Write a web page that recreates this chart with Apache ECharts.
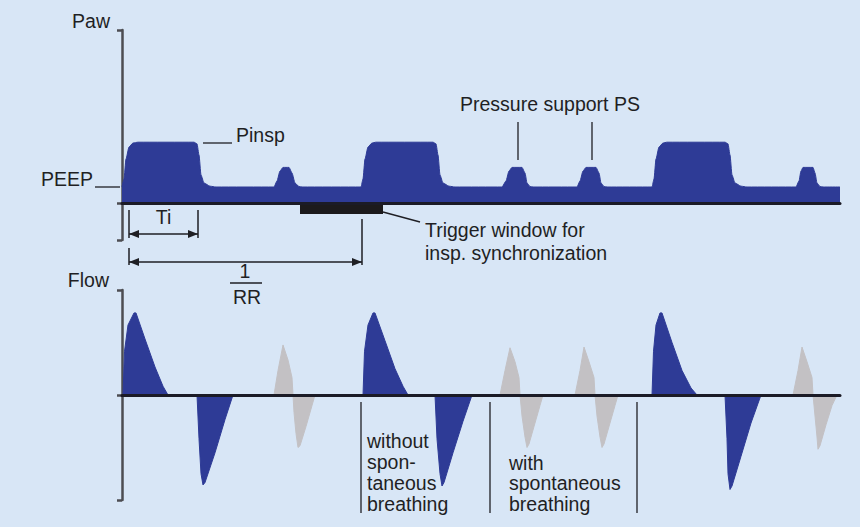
<!DOCTYPE html>
<html>
<head>
<meta charset="utf-8">
<script src="https://cdn.jsdelivr.net/npm/echarts@6/dist/echarts.min.js"></script>
<style>
html,body{margin:0;padding:0;background:#d8e6f6;}
#chart{width:860px;height:527px;}
</style>
</head>
<body>
<div id="chart"></div>
<script>
// ---- Data (time in s, Paw in mbar, Flow in L/min) ----
const pawTime = [0,0.04,0.08,0.14,0.22,0.32,1.44,1.50,1.54,1.58,1.64,1.76,1.88,
  3.04,3.10,3.16,3.22,3.34,3.40,3.46,3.54,3.60,
  4.78,4.82,4.86,4.92,5.00,5.08,6.22,6.28,6.32,6.36,6.42,6.54,6.66,
  7.60,7.68,7.74,7.80,8.00,8.06,8.10,8.16,8.22,
  9.10,9.16,9.22,9.28,9.48,9.54,9.58,9.64,9.70,
  10.60,10.64,10.68,10.74,10.82,10.90,12.06,12.12,12.16,12.20,12.26,12.38,12.50,
  13.48,13.54,13.58,13.62,13.82,13.86,13.90,13.96,14.02,14.36];
const pawValue = [4,6,11,14,15,15.2,15.2,14.8,12,7,5,4.2,4,
  4,5.5,8,8.9,8.9,7.5,5,4.1,4,
  4,6,11,14,15,15.2,15.2,14.8,12,7,5,4.2,4,
  4,5.5,8,8.9,8.9,7.5,5,4.1,4,
  4,5.5,8,8.9,8.9,7.5,5,4.1,4,
  4,6,11,14,15,15.2,15.2,14.8,12,7,5,4.2,4,
  4,5.5,8,8.9,8.9,7.5,5,4.1,4,4];

const flowMandTime = [0,0.02,0.05,0.12,0.24,0.28,0.46,0.66,0.82,0.92,
  1.50,1.54,1.58,1.62,1.66,1.86,2.06,2.22,
  4.82,4.85,4.92,5.02,5.06,5.26,5.46,5.62,5.72,
  6.26,6.30,6.36,6.40,6.44,6.62,6.82,7.00,
  10.60,10.63,10.68,10.76,10.80,11.00,11.20,11.38,11.50,
  12.06,12.10,12.12,12.16,12.20,12.38,12.58,12.78,14.36];
const flowMandValue = [0,0,25,40,46.9,46.9,32,16,5,0,
  0,-25,-45,-51.4,-50,-33,-14,0,
  0,25,40,46.9,46.9,31,15,5,0,
  0,-25,-45,-52,-50,-33,-15,0,
  0,25,40,46.9,46.9,30,14,4,0,
  0,-25,-45,-54,-52,-35,-16,0,0];

const flowSpontTime = [0,
  3.04,3.12,3.22,3.32,3.40,3.42,3.44,3.48,3.52,3.56,3.68,3.78,3.86,
  7.56,7.66,7.76,7.86,7.94,7.96,8.00,8.06,8.10,8.14,8.26,8.36,8.42,
  9.06,9.16,9.24,9.34,9.44,9.46,9.50,9.56,9.60,9.64,9.76,9.86,9.92,
  13.42,13.52,13.60,13.70,13.80,13.82,13.86,13.90,13.92,13.96,14.08,14.20,14.30,14.36];
const flowSpontValue = [0,
  0,14,28.6,20,10,0,-10,-22,-30,-29,-18,-8,0,
  0,14,27,19,10,0,-12,-24,-30,-28,-16,-6,0,
  0,14,27.4,19,10,0,-12,-24,-30,-28,-16,-6,0,
  0,14,27.4,19,10,0,-12,-24,-31,-29,-17,-6,0,0];

const triggerWindow = [3.56, 5.22];     // s
const triggerDepth = -2.75;              // bar depth below baseline
const tiSpan = [0.14, 1.52];             // inspiration time
const rrSpan = [0.14, 4.80];             // 1/RR
const dividerTimes = [4.78, 7.36, 10.30];
const timeRange = [0, 14.36];
const pawRange = [-9.25, 43.25];
const flowRange = [-60, 60];

const BLUE = '#2e3b96', GRAY = '#c3c1c4', INK = '#1f1f24', AXIS = '#4d4d52';
const FONT = '"Liberation Sans", Arial, sans-serif';
const zip = (a, b) => a.map((v, i) => [v, b[i]]);

const chart = echarts.init(document.getElementById('chart'), null, {renderer: 'svg'});

function yAx(gi, range) {
  return {
    type: 'value', gridIndex: gi, min: range[0], max: range[1],
    axisLine: {show: true, onZero: false, lineStyle: {color: AXIS, width: 2.5}},
    axisTick: {show: true, customValues: [range[0], 0, range[1]], length: 5, lineStyle: {color: AXIS, width: 2.5}},
    axisLabel: {show: false}, splitLine: {show: false}
  };
}
function xAx(gi) {
  return {
    type: 'value', gridIndex: gi, min: timeRange[0], max: timeRange[1], z: 5,
    axisLine: {show: true, onZero: true, lineStyle: {color: '#1b1b26', width: 3}},
    axisTick: {show: false}, axisLabel: {show: false}, splitLine: {show: false}
  };
}

chart.setOption({
  backgroundColor: '#d8e6f6',
  animation: false,
  grid: [
    {left: 122, right: 20, top: 30, height: 210},
    {left: 122, right: 20, top: 290, height: 210}
  ],
  xAxis: [xAx(0), xAx(1)],
  yAxis: [yAx(0, pawRange), yAx(1, flowRange)],
  series: [
    {
      name: 'Paw', type: 'line', xAxisIndex: 0, yAxisIndex: 0,
      data: zip(pawTime, pawValue), showSymbol: false, smooth: 0.2, smoothMonotone: 'x',
      lineStyle: {color: BLUE, width: 1}, areaStyle: {color: BLUE, opacity: 1},
      markArea: {
        silent: true, itemStyle: {color: '#1c1a1c'},
        data: [[{coord: [triggerWindow[0], 0]}, {coord: [triggerWindow[1], triggerDepth]}]]
      }
    },
    {
      name: 'Flow spontaneous', type: 'line', xAxisIndex: 1, yAxisIndex: 1,
      data: zip(flowSpontTime, flowSpontValue), showSymbol: false,
      lineStyle: {color: GRAY, width: 1}, areaStyle: {color: GRAY, opacity: 1}
    },
    {
      name: 'Flow mandatory', type: 'line', xAxisIndex: 1, yAxisIndex: 1,
      data: zip(flowMandTime, flowMandValue), showSymbol: false,
      lineStyle: {color: BLUE, width: 1}, areaStyle: {color: BLUE, opacity: 1}
    }
  ]
});

// ---- annotations, positioned through the axes ----
const P = (g, t, v) => chart.convertToPixel({gridIndex: g}, [t, v]);
const G = [];
function line(g, a, b, w) {
  const p1 = P(g, a[0], a[1]), p2 = P(g, b[0], b[1]);
  G.push({type: 'line', silent: true, z: 10, shape: {x1: p1[0], y1: p1[1], x2: p2[0], y2: p2[1]},
    style: {stroke: INK, lineWidth: w || 1.3}});
}
function text(g, t, v, str, align) {
  const p = P(g, t, v);
  G.push({type: 'text', silent: true, z: 10, x: p[0], y: p[1],
    style: {text: str, fill: INK, font: '19.5px ' + FONT, align: align || 'left', verticalAlign: 'middle'}});
}
function dim(g, t1, t2, v) {
  const a = P(g, t1, v), b = P(g, t2, v);
  G.push({type: 'line', silent: true, z: 10, shape: {x1: a[0], y1: a[1], x2: b[0], y2: b[1]}, style: {stroke: INK, lineWidth: 1.5}});
  G.push({type: 'polygon', silent: true, z: 10, shape: {points: [[a[0], a[1]], [a[0] + 10, a[1] - 4], [a[0] + 10, a[1] + 4]]}, style: {fill: INK}});
  G.push({type: 'polygon', silent: true, z: 10, shape: {points: [[b[0], b[1]], [b[0] - 10, b[1] - 4], [b[0] - 10, b[1] + 4]]}, style: {fill: INK}});
}

// top panel
text(0, -0.24, 45.5, 'Paw', 'right');
text(0, -0.58, 6, 'PEEP', 'right');
line(0, [-0.54, 4], [-0.04, 4]);
line(0, [1.62, 15], [2.20, 15]);
text(0, 2.28, 17, 'Pinsp');
text(0, 6.76, 24.75, 'Pressure support PS');
line(0, [7.92, 20.25], [7.92, 10.75]);
line(0, [9.40, 20.25], [9.40, 10.75]);
line(0, [triggerWindow[1], -2.25], [5.96, -4.75]);
text(0, 6.06, -6.75, 'Trigger window for');
text(0, 6.06, -12.5, 'insp. synchronization');
line(0, [tiSpan[0], -1.75], [tiSpan[0], -8.75], 1.5);
line(0, [tiSpan[1], -1.75], [tiSpan[1], -8.75], 1.5);
dim(0, tiSpan[0], tiSpan[1], -7.75);
text(0, (tiSpan[0] + tiSpan[1]) / 2, -3.6, 'Ti', 'center');
line(0, [rrSpan[0], -11.25], [rrSpan[0], -15.5], 1.5);
line(0, [rrSpan[1], -4], [rrSpan[1], -15.5], 1.5);
dim(0, rrSpan[0], rrSpan[1], -14.75);
text(0, 2.46, -17.1, '1', 'center');
line(0, [2.16, -20], [2.80, -20], 1.5);
text(0, 2.50, -23.5, 'RR', 'center');

// bottom panel
text(1, -0.26, 66, 'Flow', 'right');
dividerTimes.forEach(t => line(1, [t, -4], [t, -67.4], 1.3));
text(1, 4.90, -26.3, 'without');
text(1, 4.90, -38.3, 'spon-');
text(1, 4.90, -50.3, 'taneous');
text(1, 4.90, -62.3, 'breathing');
text(1, 7.74, -38.6, 'with');
text(1, 7.74, -50.3, 'spontaneous');
text(1, 7.74, -62.3, 'breathing');

chart.setOption({graphic: G});
</script>
</body>
</html>
